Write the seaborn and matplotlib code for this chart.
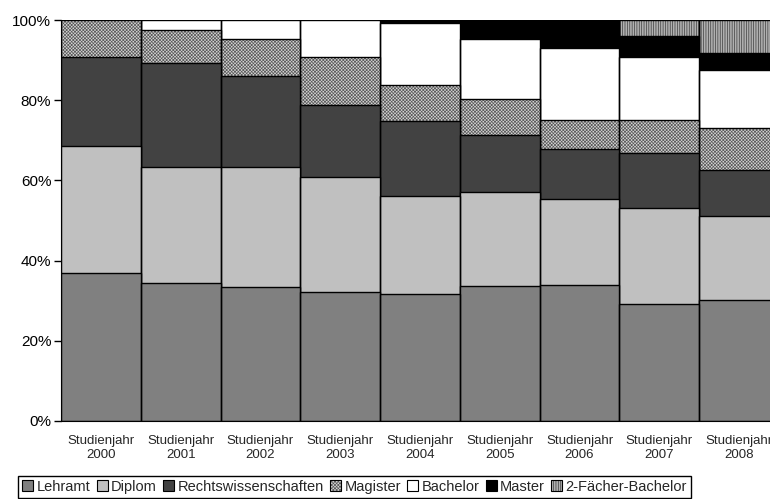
import numpy as np
import matplotlib
matplotlib.use('Agg')
import matplotlib.pyplot as plt
from matplotlib.patches import Patch
import seaborn as sns

# Anteile der Studiengänge je Studienjahr (in %)
years = ['2000', '2001', '2002', '2003', '2004', '2005', '2006', '2007', '2008']
lehramt = [37.0, 34.4, 33.4, 32.2, 31.7, 33.7, 33.8, 29.3, 30.2]
diplom = [31.7, 29.0, 30.0, 28.7, 24.3, 23.4, 21.6, 23.7, 21.0]
rechts = [22.1, 25.8, 22.6, 17.8, 18.8, 14.1, 12.4, 13.8, 11.3]
magister = [9.2, 8.2, 9.3, 12.1, 9.0, 9.0, 7.2, 8.3, 10.5]
bachelor = [0.0, 2.6, 4.7, 9.2, 15.5, 15.0, 18.0, 15.6, 14.5]
master = [0.0, 0.0, 0.0, 0.0, 0.7, 4.8, 7.0, 5.3, 4.2]
zwei_faecher = [0.0, 0.0, 0.0, 0.0, 0.0, 0.0, 0.0, 4.0, 8.3]

series_names = ['Lehramt', 'Diplom', 'Rechtswissenschaften', 'Magister',
                'Bachelor', 'Master', '2-Fächer-Bachelor']


def main():
    sns.set_style('white')
    plt.rcParams['font.family'] = ['Liberation Sans', 'DejaVu Sans']
    plt.rcParams['hatch.linewidth'] = 0.5

    values = np.array([lehramt, diplom, rechts, magister, bachelor, master, zwei_faecher])
    # normalise each year to 100 %
    values = values / values.sum(axis=0) * 100
    cum = np.cumsum(values, axis=0)
    labels = ['Studienjahr\n' + y for y in years]

    # (facecolor, hatch, hatchcolor)
    styles = [
        ('#808080', None, '#808080'),
        ('#c0c0c0', None, '#c0c0c0'),
        ('#424242', None, '#424242'),
        ('#d4d4d4', 'x' * 10, '#5a5a5a'),
        ('#ffffff', None, '#ffffff'),
        ('#000000', None, '#000000'),
        ('#b0b0b0', '|' * 7, '#3c3c3c'),
    ]

    fig = plt.figure(figsize=(7.7, 4.99), dpi=100)
    ax = fig.add_axes([61 / 770, 78 / 499, 718 / 770, 401 / 499])

    for i in reversed(range(len(series_names))):
        face, hatch, hcol = styles[i]
        sns.barplot(x=labels, y=cum[i], color=face, saturation=1, width=1,
                    hatch=hatch, edgecolor=hcol, linewidth=0, ax=ax)
        sns.barplot(x=labels, y=cum[i], color='black', fill=False,
                    width=1, linewidth=1, ax=ax)

    ax.set_xlim(-0.5, 8.5)
    ax.set_ylim(0, 100)
    ax.set_yticks(range(0, 101, 20))
    ax.set_yticklabels([f'{v}%' for v in range(0, 101, 20)])
    ax.set_xlabel('')
    ax.set_ylabel('')
    ax.tick_params(axis='y', length=5, width=1, direction='out', labelsize=11,
                   left=True, pad=2, colors='black')
    ax.tick_params(axis='x', length=0, labelsize=9.5, pad=10)
    for t in ax.get_xticklabels():
        t.set_multialignment('center')
    sns.despine(ax=ax, top=True, right=True)
    ax.spines['left'].set_color('black')
    ax.spines['bottom'].set_color('black')

    handles = []
    for (face, hatch, hcol), name in zip(styles, series_names):
        fill = Patch(facecolor=face, edgecolor=hcol, hatch=hatch, linewidth=0)
        border = Patch(facecolor='none', edgecolor='black', linewidth=0.8)
        handles.append((fill, border))
    leg = fig.legend(handles=handles, labels=series_names, loc='lower left', ncol=7,
                     bbox_to_anchor=(17 / 770, 0.0), fontsize=10.5,
                     frameon=True, fancybox=False, edgecolor='black',
                     framealpha=1, handlelength=0.75, handleheight=0.75,
                     handletextpad=0.22, columnspacing=0.45, borderpad=0.25,
                     borderaxespad=0.1)
    leg.get_frame().set_linewidth(1)

    fig.savefig('out.png', dpi=100)


if __name__ == '__main__':
    main()
